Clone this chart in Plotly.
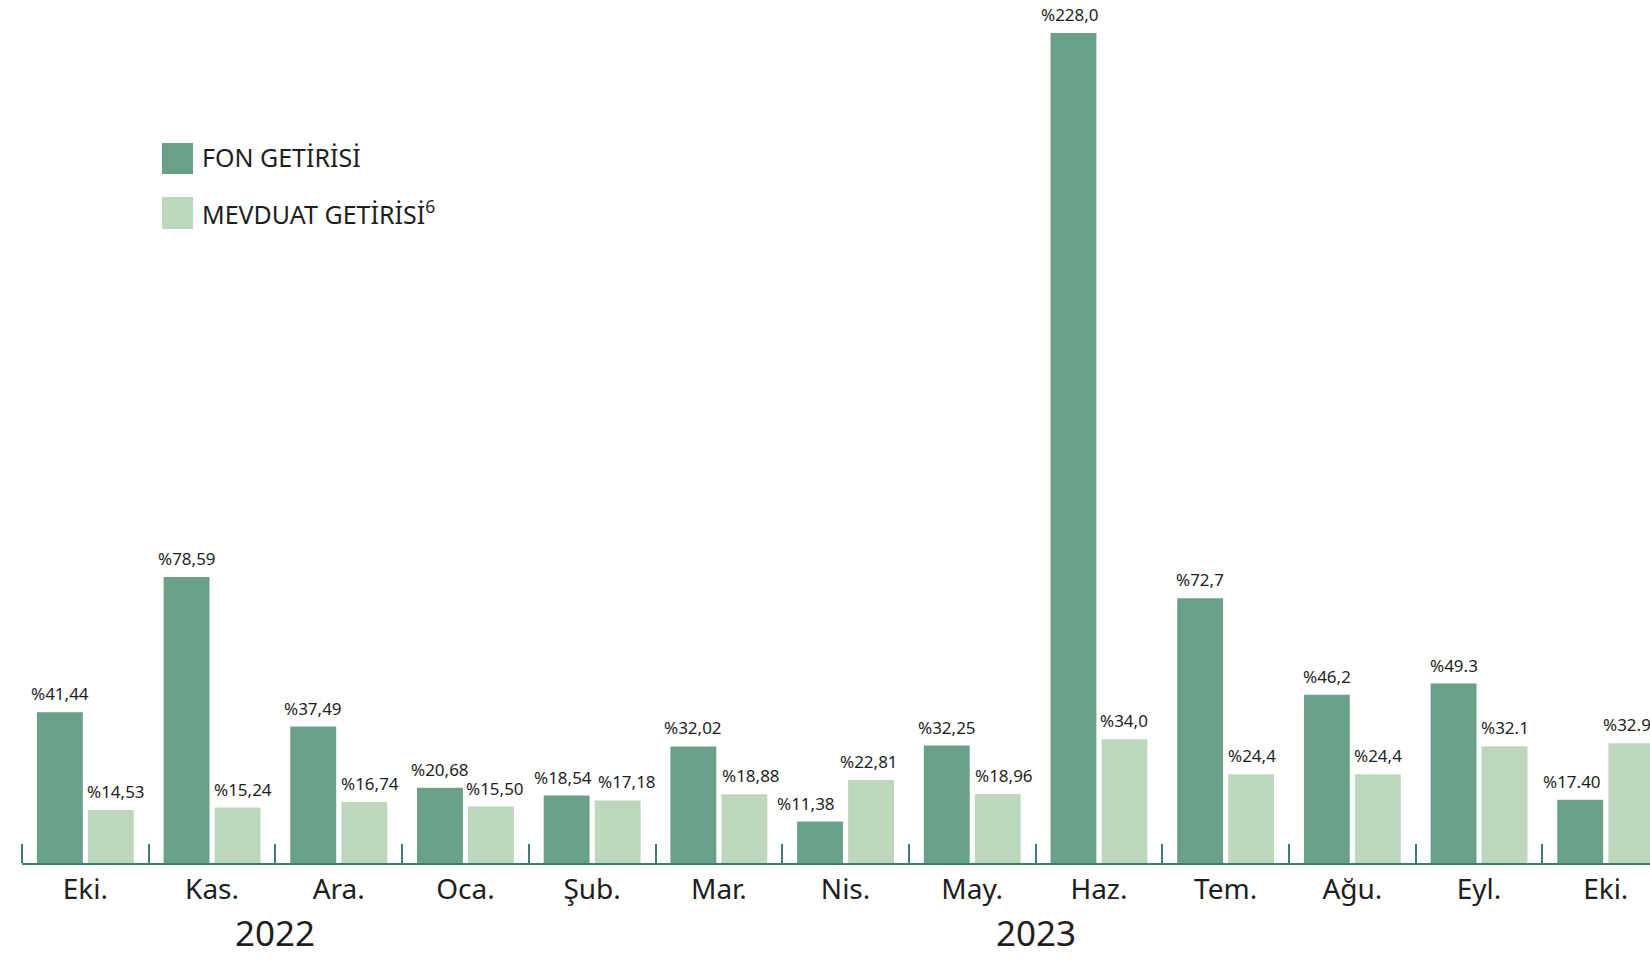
import plotly.graph_objects as go

months = ["Eki.", "Kas.", "Ara.", "Oca.", "Şub.", "Mar.", "Nis.", "May.", "Haz.", "Tem.", "Ağu.", "Eyl.", "Eki."]
fon_values = [41.44, 78.59, 37.49, 20.68, 18.54, 32.02, 11.38, 32.25, 228.0, 72.7, 46.2, 49.3, 17.40]
fon_labels = ["%41,44", "%78,59", "%37,49", "%20,68", "%18,54", "%32,02", "%11,38", "%32,25",
              "%228,0", "%72,7", "%46,2", "%49.3", "%17.40"]
mevduat_values = [14.53, 15.24, 16.74, 15.50, 17.18, 18.88, 22.81, 18.96, 34.0, 24.4, 24.4, 32.1, 32.9]
mevduat_labels = ["%14,53", "%15,24", "%16,74", "%15,50", "%17,18", "%18,88", "%22,81", "%18,96",
                  "%34,0", "%24,4", "%24,4", "%32.1", "%32.9"]
years = ["2022", "2023"]
year_pos = [1.5, 7.5]
series_names = ["FON GETİRİSİ", "MEVDUAT GETİRİSİ<sup>6</sup>"]

# style: horizontal nudges (px) of value labels relative to their bar centre
fon_label_nudge = [0, 0, 0, 0, -4, 0, -14, 0, -3, 0, 0, 0, -8]
mevduat_label_nudge = [5, 5, 6, 4, 9, 7, -2, 6, 0, 1, 0, 0, -4]

DARK = "#6A9F88"
LIGHT = "#BDD7BC"
AXIS = "#3D7D75"
TEXT = "#1e1e1e"
FONT = "Noto Sans"

W, H = 1650, 959
ML, MR, MT, MB = 22, 0, 0, 96
PW, PH = W - ML - MR, H - MT - MB
CAT_W = 126.7
BARGAP = 0.195
HALF_SLOT = CAT_W * (1 - BARGAP) / 4  # px from category centre to bar centre

x = list(range(len(months)))

fig = go.Figure()
fig.add_trace(go.Bar(x=x, y=fon_values, name=series_names[0],
                     marker=dict(color=DARK, line=dict(width=0)), showlegend=False))
fig.add_trace(go.Bar(x=x, y=mevduat_values, name=series_names[1],
                     marker=dict(color=LIGHT, line=dict(width=0)), showlegend=False))

# value labels
for vals, labels, nudges, side in [(fon_values, fon_labels, fon_label_nudge, -1),
                                   (mevduat_values, mevduat_labels, mevduat_label_nudge, 1)]:
    for xi, v, lab, nd in zip(x, vals, labels, nudges):
        fig.add_annotation(xref="x", yref="y", x=xi, y=v, text=lab, showarrow=False,
                           xanchor="center", yanchor="bottom",
                           xshift=side * HALF_SLOT + nd, yshift=5,
                           font=dict(family=FONT, size=17, color=TEXT))


def px(xp):
    return (xp - ML) / PW


def py(yp):
    return (MT + PH - yp) / PH


# legend drawn as shapes + text
legend_rows = [(143, 174, DARK), (197, 229, LIGHT)]
for (y0, y1, col), name in zip(legend_rows, series_names):
    fig.add_shape(type="rect", xref="paper", yref="paper",
                  x0=px(162), x1=px(193), y0=py(y1), y1=py(y0),
                  fillcolor=col, line=dict(width=0))
    fig.add_annotation(xref="paper", yref="paper", x=px(200), y=py((y0 + y1) / 2 - 1),
                       xanchor="left", yanchor="middle", text=name, showarrow=False,
                       font=dict(family=FONT, size=25, color=TEXT))

for yr, pos in zip(years, year_pos):
    fig.add_annotation(xref="x", yref="paper", x=pos, y=py(958), xanchor="center",
                       yanchor="bottom", text=yr, showarrow=False,
                       font=dict(family=FONT, size=35, color=TEXT))

fig.update_layout(
    width=W, height=H,
    margin=dict(l=ML, r=MR, t=MT, b=MB),
    paper_bgcolor="white", plot_bgcolor="white",
    barmode="group", bargap=BARGAP, bargroupgap=0.1,
    xaxis=dict(range=[-0.5, -0.5 + PW / CAT_W], tickmode="array", tickvals=x, ticktext=months,
               showline=True, linecolor=AXIS, linewidth=2, ticks="", showgrid=False,
               zeroline=False, tickfont=dict(family=FONT, size=28, color=TEXT),
               minor=dict(tickmode="array", tickvals=[i - 0.5 for i in range(len(months) + 1)],
                          ticks="inside", ticklen=19, tickwidth=2, tickcolor=AXIS, showgrid=False)),
    yaxis=dict(range=[0, PH / ((PH - 33) / 228.0)], visible=False, showgrid=False, zeroline=False),
    font=dict(family=FONT),
)

fig.write_html("out.html", config={"displayModeBar": False},
               post_script="document.body.style.margin='0';document.body.style.overflow='hidden';")
